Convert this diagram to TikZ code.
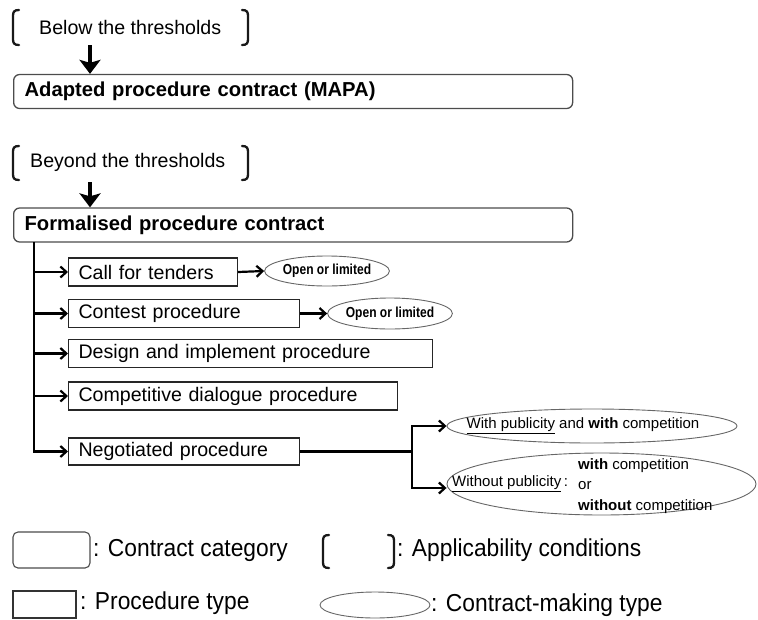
\documentclass[tikz,border=0pt]{standalone}
\usepackage{fontspec}
\setmainfont{Liberation Sans}
\usepackage{graphicx}
\usetikzlibrary{arrows.meta,shapes.geometric,calc}
\newcommand\legfont[1]{\scalebox{0.93}[1]{\fontsize{24.5}{27}\selectfont #1}}
\begin{document}
\begin{tikzpicture}[x=1pt,y=-1pt,
  cat/.style={draw=black!70, line width=1.3pt, rounded corners=6pt, rectangle, anchor=west,
    minimum height=34pt, inner xsep=11pt, inner ysep=0pt, align=left,
    font=\fontsize{20.2}{22}\selectfont\bfseries},
  pbox/.style={draw=black!85, line width=1.1pt, rectangle, anchor=west,
    minimum height=28pt, inner xsep=10pt, inner ysep=0pt, align=left,
    font=\fontsize{19.6}{22}\selectfont},
  cond/.style={anchor=west, inner sep=0pt, font=\fontsize{19.6}{22}\selectfont},
  ell/.style={draw=black!60, line width=0.9pt, ellipse, inner sep=0pt},
  etext/.style={inner sep=0pt, font=\fontsize{15}{20.5}\selectfont},
  legtext/.style={anchor=west, inner sep=0pt},
  brk/.style={line width=2.3pt, line cap=round, black!90},
  bigarr/.style={line width=3.6pt, -{Stealth[length=14pt,width=21pt,inset=3pt]}},
  sarr/.style={line width=2.2pt, -{Straight Barb[length=6pt,width=11pt]}},
  trunk/.style={line width=2.5pt},
]
\useasboundingbox (0,0) rectangle (758,619);

% --- below the thresholds ---
\draw[brk] (19,10) .. controls (14,10) and (13,12) .. (13,16) -- (13,39) .. controls (13,43) and (14,45) .. (19,45);
\draw[brk] (242,10) .. controls (247,10) and (248,12) .. (248,16) -- (248,39) .. controls (248,43) and (247,45) .. (242,45);
\node[cond] (below) at (39,27) {Below the thresholds};
\node[cat, text width=537pt] (mapa) at (13,91.5) {Adapted procedure contract (MAPA)};
\coordinate (a1) at (90,45);
\draw[bigarr] (a1) -- (a1 |- mapa.north);

% --- beyond the thresholds ---
\draw[brk] (19,146) .. controls (14,146) and (13,148) .. (13,152) -- (13,174) .. controls (13,178) and (14,180) .. (19,180);
\draw[brk] (242,146) .. controls (247,146) and (248,148) .. (248,152) -- (248,174) .. controls (248,178) and (247,180) .. (242,180);
\node[cond] (beyond) at (30,162) {Beyond the thresholds};
\node[cat, text width=537pt] (formal) at (13,225) {Formalised procedure contract};
\coordinate (a2) at (90,182);
\draw[bigarr] (a2) -- (a2 |- formal.north);

% --- procedure types ---
\node[pbox, text width=149pt] (call) at (68,272) {Call for tenders};
\node[pbox, text width=211pt] (contest) at (68,313.5) {Contest procedure};
\node[pbox, text width=344pt] (design) at (68,353.5) {Design and implement procedure};
\node[pbox, text width=309pt] (comp) at (68,396) {Competitive dialogue procedure};
\node[pbox, text width=211pt, minimum height=27pt] (neg) at (68,451.5) {Negotiated procedure};

\coordinate (t0) at (34,242);
\draw[trunk] (t0) -- (t0 |- neg.west);
\draw[sarr] (t0) |- (neg.west);
\draw[sarr] (call.west -| t0) -- (call.west);
\draw[sarr] (contest.west -| t0) -- (contest.west);
\draw[sarr] (design.west -| t0) -- (design.west);
\draw[sarr] (comp.west -| t0) -- (comp.west);

% --- contract-making types ---
\node[ell, minimum width=113pt, minimum height=30pt] (ce) at (327,271)
  {\scalebox{0.83}[1]{\fontsize{14.5}{16}\selectfont\bfseries Open or limited}};
\node[ell, minimum width=114pt, minimum height=31pt] (cte) at (390,313.5)
  {\scalebox{0.83}[1]{\fontsize{14.5}{16}\selectfont\bfseries Open or limited}};
\draw[sarr] (call.east) -- (ce.west);
\draw[sarr] (contest.east) -- (cte.west);

\node[ell, minimum width=290pt, minimum height=34pt] (n1) at (592,426) {};
\node[etext] (n1t) at (583,426) {\underline{With publicity} and \textbf{with} competition};
\node[ell, minimum width=309pt, minimum height=62pt] (n2) at (601.5,484) {};
\node[etext, anchor=west] (n2a) at (452,484) {\underline{Without publicity}\,:};
\node[etext, anchor=west, align=left] (n2b) at (578,486) {\textbf{with} competition\\or\\\textbf{without} competition};

\coordinate (br) at (412,451.5);
\draw[line width=2.2pt] (neg.east) -- (br);
\draw[sarr] (br) |- (n1.west);
\draw[sarr] (br) |- ($(n2.west)+(0,4)$);

% --- legend ---
\node[draw=black!70, line width=1.1pt, rounded corners=5pt, minimum width=77pt, minimum height=36pt, inner sep=0pt] (lg1) at (51.5,550) {};
\node[legtext] (lt1) at (93,550) {\legfont{: Contract category}};
\draw[brk] (329,535) .. controls (324,535) and (323,537) .. (323,541) -- (323,562) .. controls (323,566) and (324,568) .. (329,568);
\draw[brk] (388,535) .. controls (393,535) and (394,537) .. (394,541) -- (394,562) .. controls (394,566) and (393,568) .. (388,568);
\node[legtext] (lt2) at (397,550) {\legfont{: Applicability conditions}};
\node[draw=black!80, line width=1.1pt, minimum width=63pt, minimum height=27pt, inner sep=0pt] (lg3) at (44.5,604.5) {};
\node[legtext] (lt3) at (80,603) {\legfont{: Procedure type}};
\node[ell, minimum width=110pt, minimum height=26pt] (lg4) at (375,605) {};
\node[legtext] (lt4) at (431,605) {\legfont{: Contract-making type}};
\end{tikzpicture}
\end{document}
